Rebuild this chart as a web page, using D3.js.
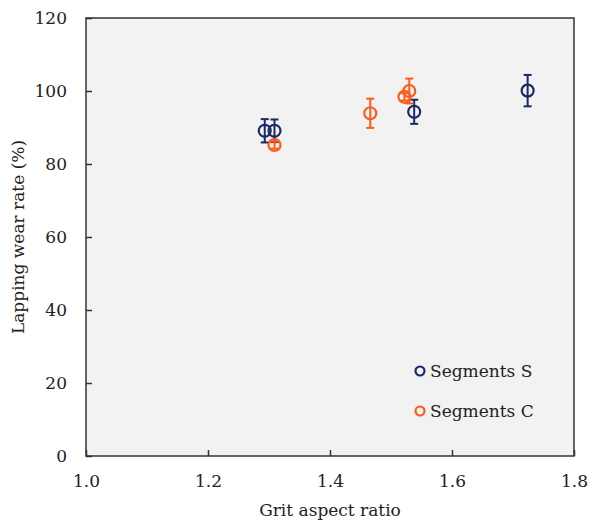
<!DOCTYPE html>
<html>
<head>
<meta charset="utf-8">
<script src="https://cdn.jsdelivr.net/npm/d3@7"></script>
<style>
  body { margin: 0; background: #fff; }
  svg text { font-family: "DejaVu Serif", "Liberation Serif", serif; fill: #222; }
</style>
</head>
<body>
<div id="chart"></div>
<script>
// Segments S
var sRatio = [1.293, 1.309, 1.538, 1.724];
var sRate = [89.1, 89.1, 94.3, 100.1];
var sErr = [3.2, 3.1, 3.3, 4.3];
// Segments C
var cRatio = [1.309, 1.466, 1.522, 1.530];
var cRate = [85.2, 93.9, 98.4, 100.0];
var cErr = [1.0, 4.0, 1.0, 3.4];

var xTicks = [1.0, 1.2, 1.4, 1.6, 1.8];
var yTicks = [0, 20, 40, 60, 80, 100, 120];

var margin = { top: 18, right: 15, bottom: 64, left: 86 },
  width = 589 - margin.left - margin.right,
  height = 520 - margin.top - margin.bottom;

var svg = d3
  .select("#chart")
  .append("svg")
  .attr("width", 589)
  .attr("height", 520)
  .append("g")
  .attr("transform", "translate(" + margin.left + "," + margin.top + ")");

var x = d3.scaleLinear().domain([1.0, 1.8]).range([0, width]);
var y = d3.scaleLinear().domain([0, 120]).range([height, 0]);

svg.append("rect")
  .attr("width", width)
  .attr("height", height)
  .attr("fill", "#f2f2f2");

var xAxis = svg.append("g")
  .attr("transform", "translate(0," + height + ")")
  .call(d3.axisBottom(x).tickValues(xTicks).tickFormat(d3.format(".1f")).tickSizeInner(-6).tickSizeOuter(0).tickPadding(19));
var yAxis = svg.append("g")
  .call(d3.axisLeft(y).tickValues(yTicks).tickSizeInner(-6).tickSizeOuter(0).tickPadding(19));

[xAxis, yAxis].forEach(function (g) {
  g.select(".domain").remove();
  g.selectAll(".tick line").attr("stroke", "#333").attr("stroke-width", 1.5);
  g.selectAll(".tick text").style("font-size", "17px").attr("fill", "#222");
});

svg.append("rect")
  .attr("width", width)
  .attr("height", height)
  .attr("fill", "none")
  .attr("stroke", "#333")
  .attr("stroke-width", 1.5);

function drawSeries(xs, ys, es, color) {
  var data = xs.map(function (d, i) { return { x: d, y: ys[i], e: es[i] }; });
  var g = svg.append("g");
  var pts = g.selectAll("g").data(data).enter().append("g");
  pts.append("line")
    .attr("x1", function (d) { return x(d.x); })
    .attr("x2", function (d) { return x(d.x); })
    .attr("y1", function (d) { return y(d.y - d.e); })
    .attr("y2", function (d) { return y(d.y + d.e); })
    .attr("stroke", color).attr("stroke-width", 2);
  [-1, 1].forEach(function (s) {
    pts.append("line")
      .attr("x1", function (d) { return x(d.x) - 4; })
      .attr("x2", function (d) { return x(d.x) + 4; })
      .attr("y1", function (d) { return y(d.y + s * d.e); })
      .attr("y2", function (d) { return y(d.y + s * d.e); })
      .attr("stroke", color).attr("stroke-width", 2);
  });
  pts.append("circle")
    .attr("cx", function (d) { return x(d.x); })
    .attr("cy", function (d) { return y(d.y); })
    .attr("r", 6)
    .attr("fill", "none")
    .attr("stroke", color)
    .attr("stroke-width", 2.2);
}

var blue = "#1b2a66", orange = "#ff5a1a";
drawSeries(sRatio, sRate, sErr, blue);
drawSeries(cRatio, cRate, cErr, orange);

var legend = [{ name: "Segments S", color: blue }, { name: "Segments C", color: orange }];
var lg = svg.append("g").attr("transform", "translate(" + (420 - margin.left) + "," + (371 - margin.top) + ")");
lg.selectAll("circle").data(legend).enter().append("circle")
  .attr("cx", 0)
  .attr("cy", function (d, i) { return i * 40; })
  .attr("r", 4.5)
  .attr("fill", "none")
  .attr("stroke", function (d) { return d.color; })
  .attr("stroke-width", 2.2);
lg.selectAll("text").data(legend).enter().append("text")
  .attr("x", 10)
  .attr("y", function (d, i) { return i * 40; })
  .attr("dy", "0.35em")
  .style("font-size", "17px")
  .text(function (d) { return d.name; });

svg.append("text")
  .attr("x", width / 2)
  .attr("y", height + 60)
  .style("text-anchor", "middle")
  .style("font-size", "17px")
  .text("Grit aspect ratio");

svg.append("text")
  .attr("transform", "rotate(-90)")
  .attr("x", -height / 2)
  .attr("y", -62)
  .style("text-anchor", "middle")
  .style("font-size", "17px")
  .text("Lapping wear rate (%)");
</script>
</body>
</html>
